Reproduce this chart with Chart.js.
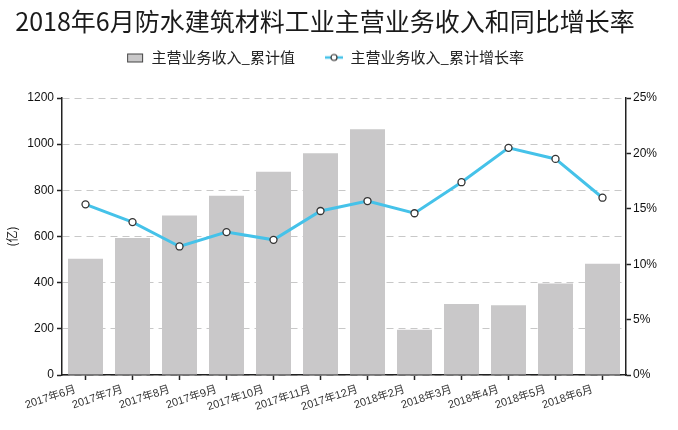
<!DOCTYPE html>
<html>
<head>
<meta charset="utf-8">
<script src="https://cdn.jsdelivr.net/npm/chart.js@4/dist/chart.umd.min.js"></script>
<style>
  html, body { margin: 0; padding: 0; background: #fff; }
  #wrap { width: 678px; height: 430px; }
</style>
</head>
<body>
<div id="wrap"><canvas id="chart" width="678" height="430"></canvas></div>
<script>
const months = ['2017年6月', '2017年7月', '2017年8月', '2017年9月', '2017年10月', '2017年11月',
    '2017年12月', '2018年2月', '2018年3月', '2018年4月', '2018年5月', '2018年6月'];
const revenue = [504, 594, 691, 777, 881, 961, 1065, 196, 308, 302, 396, 482];
const growth = [15.4, 13.8, 11.6, 12.9, 12.2, 14.8, 15.7, 14.6, 17.4, 20.5, 19.5, 16.0];
const revenueTicks = [0, 200, 400, 600, 800, 1000, 1200];
const growthTicks = [0, 5, 10, 15, 20, 25];

const barColor = '#c9c8c9';
const lineColor = '#45c2e9';
const cjk = '"Noto Sans CJK SC", sans-serif';
const latin = '"Liberation Sans", "Noto Sans CJK SC", sans-serif';

// small legend icons
function makeIcon(kind) {
    const c = document.createElement('canvas');
    c.width = 18;
    c.height = 12;
    const g = c.getContext('2d');
    if (kind === 'bar') {
        g.fillStyle = barColor;
        g.fillRect(1.5, 2.5, 15, 8);
        g.strokeStyle = '#444';
        g.lineWidth = 1;
        g.strokeRect(1.5, 2.5, 15, 8);
    } else {
        g.strokeStyle = lineColor;
        g.lineWidth = 2.5;
        g.beginPath();
        g.moveTo(0, 6);
        g.lineTo(18, 6);
        g.stroke();
        g.beginPath();
        g.arc(9, 6, 3, 0, Math.PI * 2);
        g.fillStyle = '#fff';
        g.fill();
        g.strokeStyle = '#333';
        g.lineWidth = 1.2;
        g.stroke();
    }
    return c;
}
const icons = [makeIcon('bar'), makeIcon('line')];

const config = {
    type: 'bar',
    data: {
        labels: months,
        datasets: [
            {
                type: 'bar',
                label: '主营业务收入_累计值',
                data: revenue,
                backgroundColor: barColor,
                yAxisID: 'y',
                categoryPercentage: 1,
                barPercentage: 0.745,
                order: 2
            },
            {
                type: 'line',
                label: '主营业务收入_累计增长率',
                data: growth,
                borderColor: lineColor,
                borderWidth: 3,
                pointRadius: 3.5,
                pointBackgroundColor: '#fff',
                pointBorderColor: '#333',
                pointBorderWidth: 1.3,
                tension: 0,
                yAxisID: 'y1',
                order: 1
            }
        ]
    },
    options: {
        responsive: false,
        animation: false,
        // negative left padding shifts the centred title/legend left like the original
        layout: { padding: { left: -28, right: 0, top: 0, bottom: 0 } },
        plugins: {
            title: {
                display: true,
                text: '2018年6月防水建筑材料工业主营业务收入和同比增长率',
                font: { family: cjk, size: 25, weight: 'normal', lineHeight: 1.2 },
                color: '#1a1a1a',
                padding: { top: 6, bottom: -16 }
            },
            legend: {
                labels: {
                    font: { family: cjk, size: 15 },
                    color: '#222',
                    usePointStyle: true,
                    pointStyleWidth: 18,
                    padding: 30,
                    generateLabels: () => [0, 1].map(i => ({
                        text: config.data.datasets[i].label,
                        pointStyle: icons[i],
                        datasetIndex: i,
                        fillStyle: 'transparent',
                        strokeStyle: 'transparent',
                        lineWidth: 0,
                        fontColor: '#222'
                    }))
                }
            },
            subtitle: {
                display: true,
                text: '',
                weight: 500,
                font: { size: 1, lineHeight: 1 },
                padding: { top: 11, bottom: 11 }
            },
            tooltip: { enabled: false }
        },
        scales: {
            x: {
                grid: { display: true, drawOnChartArea: false, offset: false, tickLength: 5, tickColor: '#222', tickWidth: 1.5 },
                border: { color: '#222', width: 1.5 },
                ticks: {
                    autoSkip: false,
                    minRotation: 18,
                    maxRotation: 18,
                    padding: 3,
                    labelOffset: -10,
                    font: { family: latin, size: 11 },
                    color: '#333'
                },
                afterFit: (scale) => { scale.height = 55; }
            },
            y: {
                position: 'left',
                min: 0,
                max: 1200,
                afterBuildTicks: (scale) => { scale.ticks = revenueTicks.map(v => ({ value: v })); },
                grid: { color: '#c8c8c8', lineWidth: 1, tickLength: 5, tickColor: '#222', tickWidth: 1.5 },
                border: { color: '#222', width: 1.5, dash: [7, 5] },
                ticks: {
                    padding: 3,
                    font: { family: latin, size: 12 },
                    color: '#111',
                    callback: (v) => String(v)
                },
                title: {
                    display: true,
                    text: '(亿)',
                    font: { family: cjk, size: 12 },
                    color: '#111',
                    padding: { top: 33, bottom: 0 }
                },
                afterFit: (scale) => { scale.width = 90; }
            },
            y1: {
                position: 'right',
                min: 0,
                max: 25,
                afterBuildTicks: (scale) => { scale.ticks = growthTicks.map(v => ({ value: v })); },
                grid: { drawOnChartArea: false, tickLength: 5, tickColor: '#222', tickWidth: 1.5 },
                border: { color: '#222', width: 1.5 },
                ticks: {
                    padding: 2,
                    font: { family: latin, size: 12 },
                    color: '#111',
                    callback: (v) => v + '%'
                },
                afterFit: (scale) => { scale.width = 52; }
            }
        }
    }
};

const ctx = document.getElementById('chart').getContext('2d');
const chart = new Chart(ctx, config);
</script>
</body>
</html>
